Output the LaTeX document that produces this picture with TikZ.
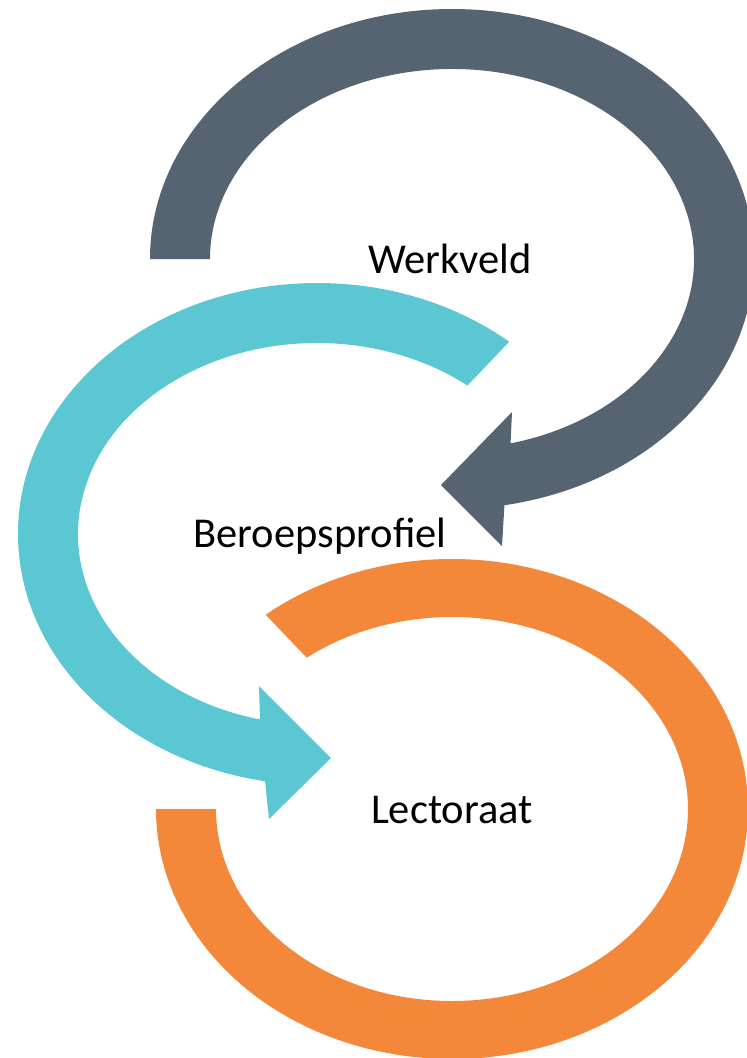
\documentclass[tikz,border=0pt]{standalone}
\usepackage{fontspec}
\setmainfont{Carlito}
\usetikzlibrary{calc}
\definecolor{ringgray}{RGB}{86,99,112}
\definecolor{ringteal}{RGB}{91,199,210}
\definecolor{ringorange}{RGB}{243,136,59}
\tikzset{
  lbl/.style={anchor=base, inner sep=0pt, font=\fontsize{42.5}{50}\selectfont, text=black}
}
\begin{document}
\begin{tikzpicture}[x=1pt,y=-1pt]
\useasboundingbox (0,0) rectangle (747,1058);
\coordinate (gc) at (452,259);
\coordinate (tc) at (317,534);
\coordinate (oc) at (452,809);
% gray arrow
\fill[ringgray] ($(gc)+(180:302 and 250)$)
  arc[start angle=180, end angle=440, x radius=302, y radius=250]
  -- (502,546) -- (441,485) -- (512,412)
  -- ($(gc)+(436:242 and 190)$)
  arc[start angle=436, end angle=180, x radius=242, y radius=190] -- cycle;
% teal arrow
\fill[ringteal] ($(tc)+(-50:299 and 251)$)
  arc[start angle=-50, end angle=-260, x radius=299, y radius=251]
  -- (269,819) -- (331,758) -- (259,686)
  -- ($(tc)+(-256.2:239 and 191)$)
  arc[start angle=-256.2, end angle=-51, x radius=239, y radius=191] -- cycle;
% orange ring
\fill[ringorange] ($(oc)+(-129:296 and 250)$)
  arc[start angle=-129, end angle=180, x radius=296, y radius=250]
  -- ($(oc)+(180:236 and 192)$)
  arc[start angle=180, end angle=-128, x radius=236, y radius=192] -- cycle;
\node[lbl] (wk) at (450,273) {Werkveld};
\node[lbl] (bp) at (320,547) {Beroepsprofiel};
\node[lbl] (lc) at (452,823) {Lectoraat};
\end{tikzpicture}
\end{document}
